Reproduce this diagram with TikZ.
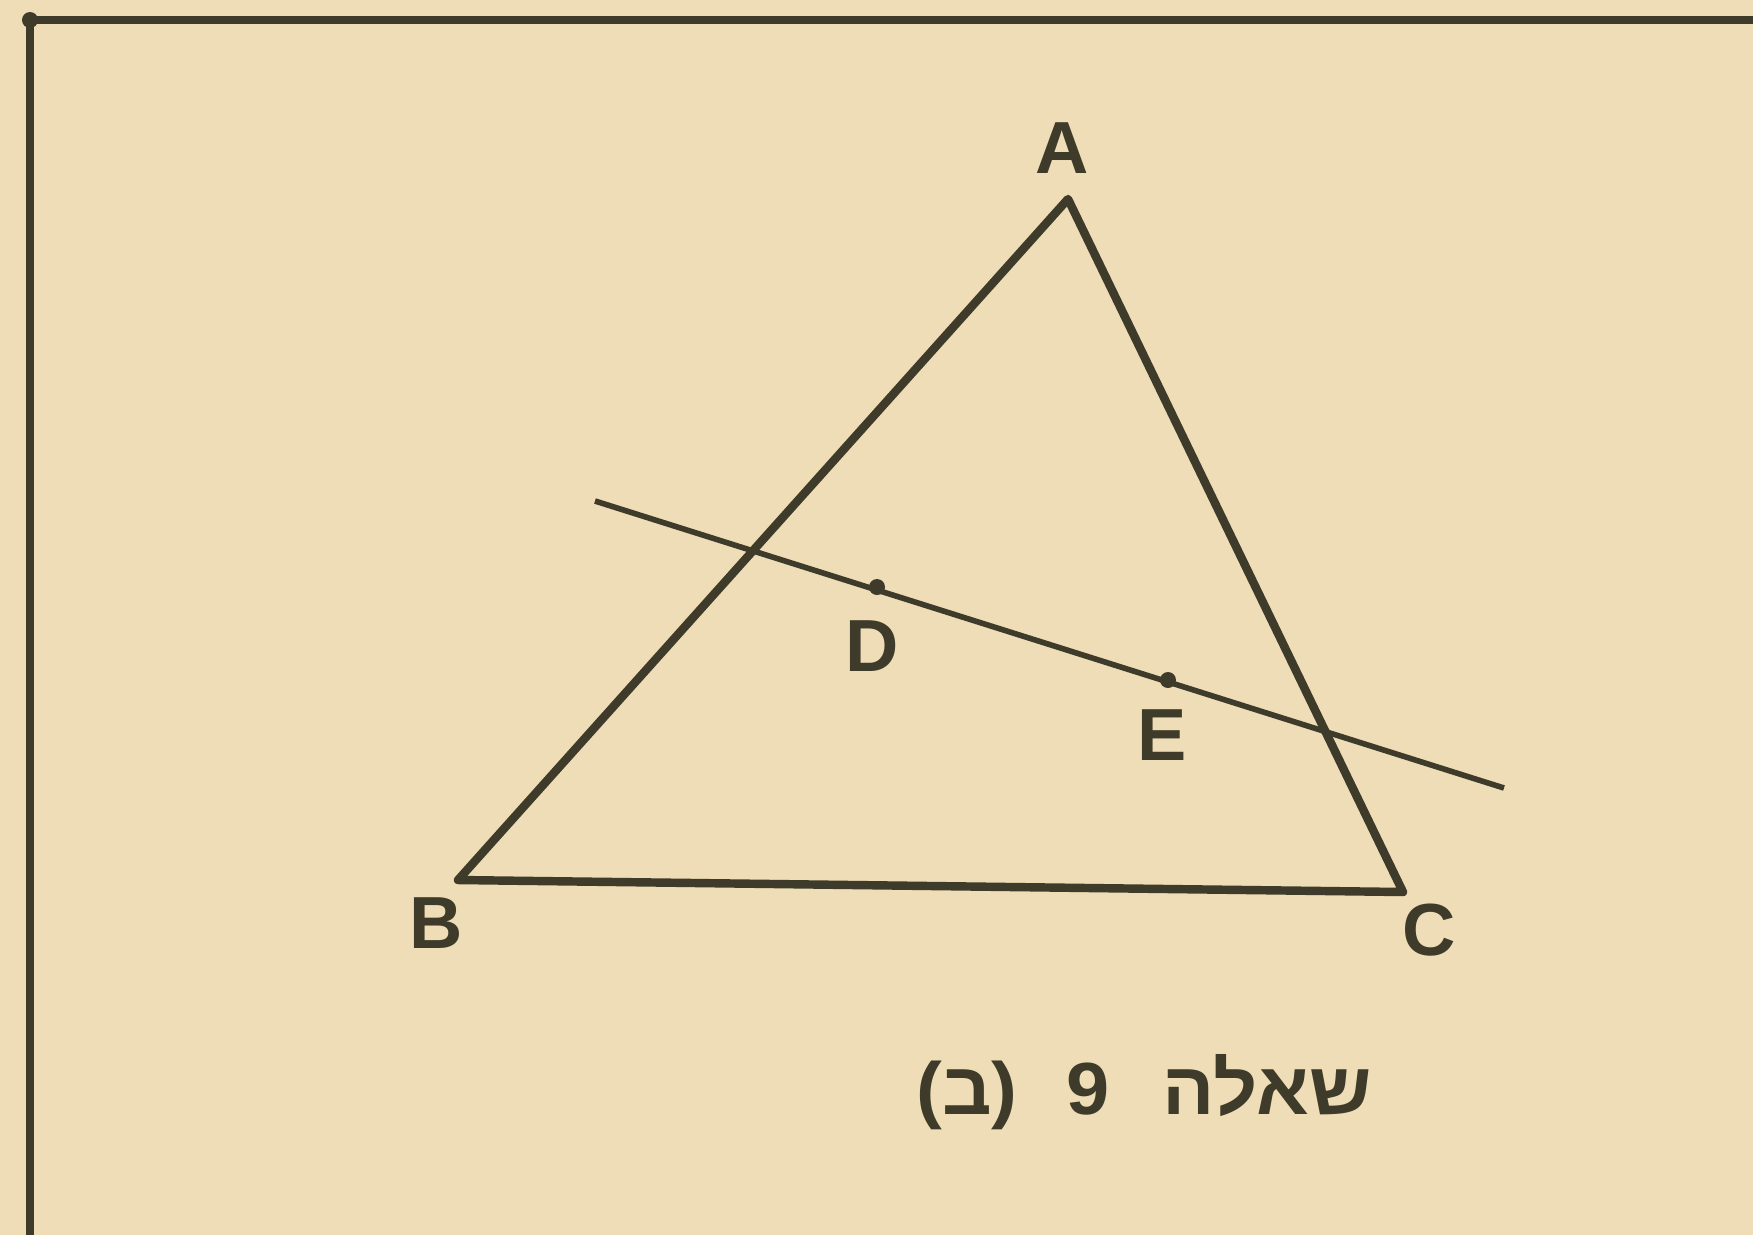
\documentclass[tikz,border=0pt]{standalone}
\usepackage{fontspec}
\setmainfont{Liberation Sans}
\newfontfamily\hebfont[Script=Hebrew, FakeStretch=1.05]{Liberation Sans}
\TeXXeTstate=1
\usepackage{tikz}
\usetikzlibrary{positioning, calc}
\definecolor{paper}{HTML}{EEDDB6}
\definecolor{ink}{HTML}{3E3B2A}

\begin{document}
\begin{tikzpicture}[x=0.01cm, y=-0.01cm,
        side/.style={ink, line width=2.4pt, line join=round},
        cutline/.style={ink, line width=1.6pt},
        ptlabel/.style={ink, font=\fontsize{21}{21}\selectfont\bfseries, inner sep=0pt}]
            \fill[paper] (0,0) rectangle (1753,1235);
            \useasboundingbox (0,0) rectangle (1753,1235);
            % frame
            \draw[ink, line width=2.2pt] (1753,20) -- (30,20) -- (30,1235);
            \fill[ink] (30,20) circle (8);
            % triangle
            \coordinate (A) at (1068,199);
            \coordinate (B) at (458,880);
            \coordinate (C) at (1403,892);
            \draw[side] (A) -- (B) -- (C) -- cycle;
            % line through D and E
            \coordinate (l1) at (595,501);
            \coordinate (l2) at (1504,788);
            \coordinate (D) at (877,587);
            \coordinate (E) at (1168,680);
            \draw[cutline] (l1) -- (l2);
            \foreach \p in {D,E} {
                \fill[ink] (\p) circle (8);
            }
            \node[ptlabel] (labA) at (1062,148) {A};
            \node[ptlabel] (labB) at (436,923) {B};
            \node[ptlabel] (labC) at (1429,930) {C};
            \node[ptlabel] (labD) at (872,646) {D};
            \node[ptlabel] (labE) at (1162,735) {E};
            \node[ink, inner sep=0pt, font=\fontsize{21}{21}\selectfont\bfseries] (title) at (1144,1092)
                {\hebfont\beginR שאלה\hspace{15pt}9\hspace{14pt}\beginL(ב)\endL\endR};
        \end{tikzpicture}
\end{document}
